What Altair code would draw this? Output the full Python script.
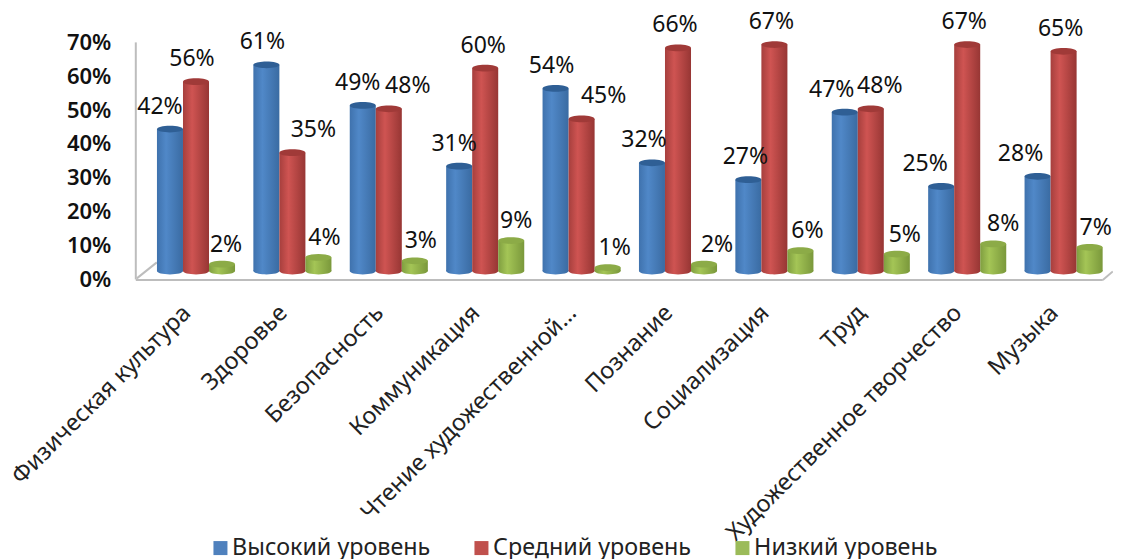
import altair as alt
import pandas as pd

categories = ["Физическая культура", "Здоровье", "Безопасность", "Коммуникация",
              "Чтение художественной…", "Познание", "Социализация", "Труд",
              "Художественное творчество", "Музыка"]
series = ["Высокий уровень", "Средний уровень", "Низкий уровень"]
high = [42, 61, 49, 31, 54, 32, 27, 47, 25, 28]
mid = [56, 35, 48, 60, 45, 66, 67, 48, 67, 65]
low = [2, 4, 3, 9, 1, 2, 6, 5, 8, 7]
# nudges of the hand-placed value labels
high_nudge = [-10, -4, -5, -5, -4, -8, -3, -13, -16, -17]
mid_nudge = [-4, 21, 19, -2, 22, -3, -3, 9, -3, -3]
low_nudge = [4, 6, 6, 5, 7, 13, 7, 8, 10, 6]
lifts = [-22.5, -22.5, -19.5]
y_ticks = [0, 10, 20, 30, 40, 50, 60, 70]

FONT = "Noto Sans"
FLAT = ["#4f81bd", "#c0504d", "#9bbb59"]
STOPS = [["#3f72ad", "#5088c8", "#3a6ba2"], ["#a63f3d", "#cf5452", "#973634"], ["#7f9e40", "#a4c556", "#7a983b"]]
CAPS = ["#2f5f95", "#a03a38", "#8cab47"]

rows = []
for vals, nudges, s, lift in zip([high, mid, low], [high_nudge, mid_nudge, low_nudge], series, lifts):
    for c, v, n in zip(categories, vals, nudges):
        rows.append({"cat": c, "series": s, "value": v, "nudge": n, "lift": lift, "label": f"{v}%", "zero": 0})
df = pd.DataFrame(rows)

X = alt.X("cat:N", sort=categories, title=None,
          scale=alt.Scale(paddingInner=0.19, paddingOuter=0.095, round=False),
          axis=alt.Axis(labelAngle=-45, labelAlign="right", labelBaseline="middle",
                        labelFontSize=23.5, labelFont=FONT, labelColor="#222222", labelPadding=38,
                        labelOffset=-9, labelLimit=400, labelOverlap=False, domain=False, ticks=False, grid=False))
XO = alt.XOffset("series:N", sort=series, scale=alt.Scale(domain=series, paddingInner=0, paddingOuter=0))
YSCALE = alt.Scale(domain=[0, 70], nice=False)
YAXIS = alt.Axis(values=y_ticks, format=".0f", labelExpr="datum.value + '%'",
                 labelFontSize=22, labelFont=FONT, labelFontWeight=600, labelColor="#111111",
                 labelPadding=37, labelOffset=8, labelOverlap=False, labelBound=False, labelFlush=False,
                 domain=False, ticks=False, grid=False)
Y = alt.Y("value:Q", title=None, scale=YSCALE, axis=YAXIS)
Y0 = alt.Y("zero:Q", title=None, scale=YSCALE, axis=YAXIS)

ELLIPSE = "M-1,0A1,0.26,0,1,1,1,0A1,0.26,0,1,1,-1,0Z"

def grad(stops):
    return alt.Gradient(gradient="linear", x1=0, x2=1, y1=0, y2=0,
                        stops=[alt.GradientStop(offset=0, color=stops[0]),
                               alt.GradientStop(offset=0.35, color=stops[1]),
                               alt.GradientStop(offset=1, color=stops[2])])

base = alt.Chart(df)
layers = []

line = dict(color="#bdbdbd", strokeWidth=2)
deco = alt.Chart(pd.DataFrame({"a": [0]}))
layers.append(deco.mark_rule(**line).encode(x=alt.value(-12), x2=alt.value(-12), y=alt.value(8), y2=alt.value(245)))
layers.append(deco.mark_rule(**line).encode(x=alt.value(-12), x2=alt.value(955), y=alt.value(245.6), y2=alt.value(245.6)))
layers.append(deco.mark_rule(**line).encode(x=alt.value(-11), x2=alt.value(9), y=alt.value(244), y2=alt.value(228)))
layers.append(deco.mark_rule(**line).encode(x=alt.value(955), x2=alt.value(965), y=alt.value(245.6), y2=alt.value(237)))

# invisible layer carrying the legend
layers.append(base.mark_point(filled=True, opacity=0).encode(
    x=X, xOffset=XO, y=Y,
    color=alt.Color("series:N", sort=series, scale=alt.Scale(domain=series, range=FLAT),
                    legend=alt.Legend(title=None, orient="none", direction="horizontal", columns=3,
                                      legendX=61, legendY=502, symbolType="square", symbolSize=196,
                                      symbolOpacity=1, symbolStrokeWidth=0, labelFontSize=23.3, labelFont=FONT,
                                      labelColor="#222222", labelLimit=300, columnPadding=39,
                                      labelOffset=0))))

for s, st, cap in zip(series, STOPS, CAPS):
    part = base.transform_filter(alt.datum.series == s)
    layers.append(part.mark_point(filled=True, opacity=1, shape=ELLIPSE, size=676, color=grad(st)).encode(
        x=X, xOffset=XO, y=Y0))
    layers.append(part.mark_bar(color=grad(st)).encode(x=X, xOffset=XO, y=Y))
    layers.append(part.mark_point(filled=True, opacity=1, shape=ELLIPSE, size=676, color=cap).encode(
        x=X, xOffset=XO, y=Y))

layers.append(base.mark_text(font=FONT, fontSize=23, color="#111111", baseline="middle",
                             dy=alt.expr("datum.lift"), dx=alt.expr("datum.nudge")).encode(
    x=X, xOffset=XO, y=Y, text="label:N"))

chart = alt.layer(*layers).properties(
    width=964, height=236.6,
    autosize=alt.AutoSizeParams(type="none"),
    padding={"left": 139.8, "top": 26.4, "right": 1.2, "bottom": 288},
    background="white",
).configure_view(stroke=None)

chart.save("out.html", embed_options={"renderer": "svg", "actions": False})
